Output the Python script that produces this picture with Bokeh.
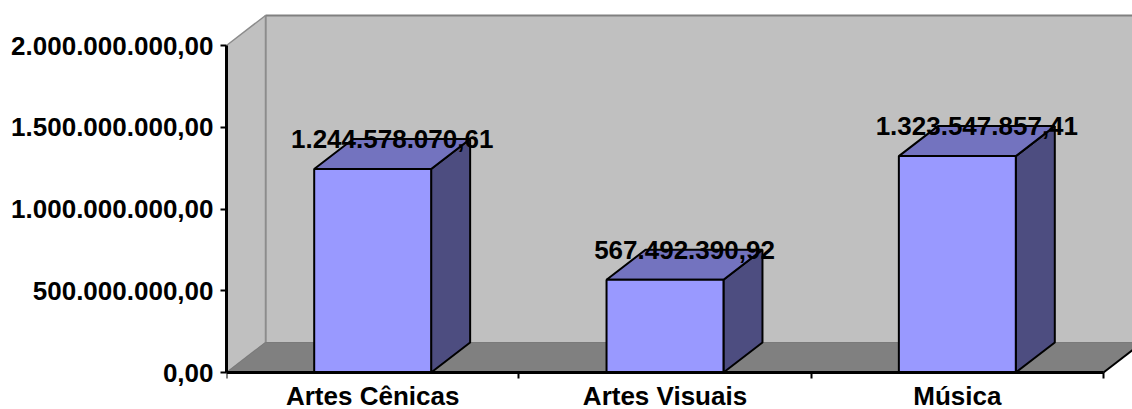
from bokeh.plotting import figure
from bokeh.models import Range1d, FixedTicker
from bokeh.core.properties import value
from bokeh.embed import file_html
from bokeh.resources import INLINE

categories = ["Artes Cênicas", "Artes Visuais", "Música"]
values = [1244578070.61, 567492390.92, 1323547857.41]
y_ticks = [0, 500000000, 1000000000, 1500000000, 2000000000]


def br(v):
    s = f"{v:,.2f}"
    return s.replace(",", "X").replace(".", ",").replace("X", ".")


W, H = 1132, 409
LEFT, TOP = 226, 13
ZERO_PX = 372            # pixel row of the value 0
frame_w = W - LEFT
cat_px = 877 / 3.0
ymax_px = 327.0
y_max = y_ticks[-1]
x_end = frame_w / cat_px
y_end = y_max * (ZERO_PX - TOP) / ymax_px
y_start = -y_max * (H - ZERO_PX) / ymax_px
dx = 39 / cat_px
dy = 30 / ymax_px * y_max
n = len(categories)
hw = 0.2
FS = "26px"

FONT = value("Liberation Sans")

p = figure(width=W, height=H, output_backend="svg", toolbar_location=None,
           x_range=Range1d(0, x_end), y_range=Range1d(y_start, y_end),
           min_border_left=LEFT, min_border_right=0, min_border_top=TOP,
           min_border_bottom=0)
p.grid.visible = False
p.outline_line_color = None
p.background_fill_color = "white"
p.border_fill_color = "white"

# back wall
p.quad(left=[dx], right=[x_end], bottom=[dy], top=[y_max + dy],
       fill_color="#c0c0c0", line_color=None)
p.segment(x0=[dx, dx], y0=[dy, y_max + dy], x1=[dx, x_end], y1=[y_max + dy, y_max + dy],
          line_color="#808080", line_width=2)
# left wall
p.patch(x=[0, dx, dx, 0], y=[0, dy, y_max + dy, y_max],
        fill_color="#c0c0c0", line_color="#8c8c8c", line_width=1.5)
# floor
p.patch(x=[0, n, n + dx, dx], y=[0, 0, dy, dy],
        fill_color="#808080", line_color="#7a7a7a", line_width=1)
p.segment(x0=[n], y0=[0], x1=[n + dx], y1=[dy], line_color="black", line_width=2)

# bars
centers = [i + 0.5 for i in range(n)]
side_xs, side_ys, top_xs, top_ys = [], [], [], []
for c, v in zip(centers, values):
    side_xs.append([c + hw, c + hw + dx, c + hw + dx, c + hw])
    side_ys.append([0, dy, v + dy, v])
    top_xs.append([c - hw, c + hw, c + hw + dx, c - hw + dx])
    top_ys.append([v, v, v + dy, v + dy])
p.patches(xs=side_xs, ys=side_ys, fill_color="#4d4d80", line_color="black", line_width=2)
p.patches(xs=top_xs, ys=top_ys, fill_color="#7373bf", line_color="black", line_width=2)
p.quad(left=[c - hw for c in centers], right=[c + hw for c in centers],
       bottom=[0] * n, top=values, fill_color="#9999ff", line_color="black", line_width=2)

# data labels
p.text(x=[c + dx / 2 for c in centers], y=[v + dy for v in values],
       text=[br(v) for v in values], text_font=FONT, text_font_style="bold",
       text_font_size=FS, text_align="center", text_baseline="middle",
       text_color="black")

# y axis
ya = p.yaxis[0]
ya.ticker = FixedTicker(ticks=y_ticks, minor_ticks=[])
ya.major_label_overrides = {t: br(t) for t in y_ticks}
ya.bounds = (0, y_max)
ya.axis_line_width = 3
ya.major_tick_line_width = 2
ya.major_tick_out = 6
ya.major_tick_in = 0
ya.major_label_standoff = 7
ya.major_label_text_font = "Liberation Sans"
ya.major_label_text_font_style = "bold"
ya.major_label_text_font_size = FS
ya.major_label_text_color = "black"

# x (category) axis, drawn at value 0
xa = p.xaxis[0]
xa.fixed_location = 0
xa.ticker = FixedTicker(ticks=centers, minor_ticks=list(range(n + 1)))
xa.major_label_overrides = {c: cat for c, cat in zip(centers, categories)}
xa.bounds = (0, n)
xa.axis_line_width = 3
xa.major_tick_line_color = None
xa.minor_tick_line_color = "black"
xa.minor_tick_line_width = 2
xa.minor_tick_out = 6
xa.minor_tick_in = 0
xa.major_label_standoff = 2
xa.major_label_text_font = "Liberation Sans"
xa.major_label_text_font_style = "bold"
xa.major_label_text_font_size = FS
xa.major_label_text_color = "black"

open("out.html", "w").write(file_html(p, INLINE))
